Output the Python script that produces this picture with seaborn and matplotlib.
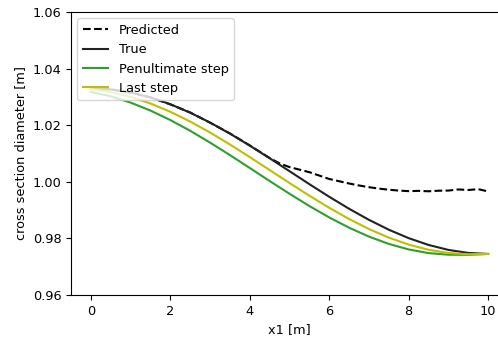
import matplotlib
matplotlib.use("Agg")
import matplotlib.pyplot as plt
import seaborn as sns
import numpy as np

# ---- data ----
x_half = [0.0, 0.5, 1.0, 1.5, 2.0, 2.5, 3.0, 3.5, 4.0, 4.5, 5.0,
          5.5, 6.0, 6.5, 7.0, 7.5, 8.0, 8.5, 9.0, 9.5, 10.0]

true_vals = [1.03300, 1.03264, 1.03157, 1.02981, 1.02741, 1.02443, 1.02094,
             1.01703, 1.01279, 1.00833, 1.00375, 0.99917, 0.99471, 0.99047,
             0.98656, 0.98307, 0.98009, 0.97769, 0.97593, 0.97486, 0.97450]

penultimate_vals = [1.03176, 1.03020, 1.02799, 1.02517, 1.02182, 1.01803,
                    1.01386, 1.00944, 1.00488, 1.00028, 0.99577, 0.99144,
                    0.98741, 0.98378, 0.98063, 0.97805, 0.97609, 0.97481,
                    0.97423, 0.97420, 0.97450]

last_vals = [1.03271, 1.03170, 1.03001, 1.02767, 1.02474, 1.02129, 1.01741,
             1.01319, 1.00874, 1.00416, 0.99957, 0.99508, 0.99081, 0.98685,
             0.98331, 0.98027, 0.97781, 0.97598, 0.97484, 0.97440, 0.97450]

x_pred = [0.0, 0.5, 1.0, 1.5, 2.0, 2.5, 3.0, 3.5, 4.0, 4.5, 4.75,
          5.0, 5.25, 5.5, 5.75, 6.0, 6.25, 6.5, 6.75, 7.0, 7.25, 7.5,
          7.75, 8.0, 8.25, 8.5, 8.75, 9.0, 9.25, 9.5, 9.75, 10.0]
pred_vals = [1.03300, 1.03268, 1.03150, 1.02985, 1.02735, 1.02450, 1.02088,
             1.01710, 1.01285, 1.00840, 1.00650,
             1.00520, 1.00430, 1.00340, 1.00220, 1.00100, 1.00020, 0.99940,
             0.99870, 0.99810, 0.99760, 0.99720, 0.99690, 0.99670, 0.99680,
             0.99665, 0.99685, 0.99690, 0.99730, 0.99710, 0.99740, 0.99660]

x_ticks = [0, 2, 4, 6, 8, 10]
y_ticks = [0.96, 0.98, 1.00, 1.02, 1.04, 1.06]

plt.rcParams["font.size"] = 9.3

fig = plt.figure(figsize=(4.98, 3.42), dpi=100)
ax = fig.add_axes([71 / 498, (342 - 295) / 342, (508 - 71) / 498, 283 / 342])

sns.lineplot(x=x_pred, y=pred_vals, ax=ax, color="k", linestyle="--",
             label="Predicted", linewidth=1.5)
sns.lineplot(x=x_half, y=true_vals, ax=ax, color="#222222",
             label="True", linewidth=1.5)
sns.lineplot(x=x_half, y=penultimate_vals, ax=ax, color="tab:green",
             label="Penultimate step", linewidth=1.5)
sns.lineplot(x=x_half, y=last_vals, ax=ax, color="y",
             label="Last step", linewidth=1.5)

ax.set_xlim(-0.5, 10.5)
ax.set_ylim(0.96, 1.06)
ax.set_xticks(x_ticks)
ax.set_yticks(y_ticks)
ax.set_yticklabels([f"{v:.2f}" for v in y_ticks])
ax.set_xlabel("x1 [m]")
ax.set_ylabel("cross section diameter [m]")
ax.legend(loc="upper left")

fig.savefig("out.png", dpi=100)
